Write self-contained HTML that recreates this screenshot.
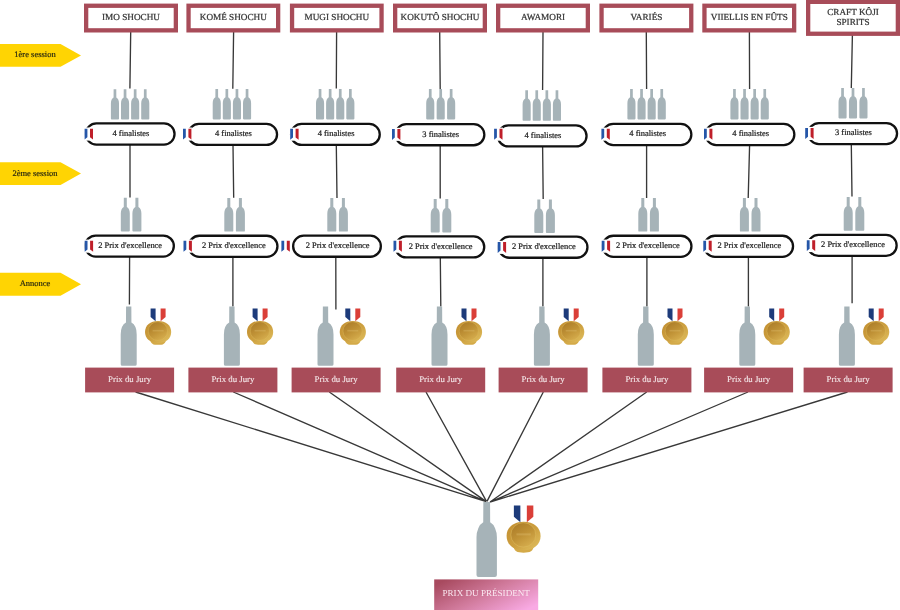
<!DOCTYPE html>
<html><head><meta charset="utf-8"><style>
html,body{margin:0;padding:0;background:#fff;}
svg{display:block;will-change:transform;}
text{font-family:"Liberation Serif",serif;text-anchor:middle;text-rendering:geometricPrecision;}
.ht{font-size:9.2px;fill:#333;stroke:#333;stroke-width:0.22px;}
.at{font-size:8.5px;fill:#2a2a10;stroke:#2a2a10;stroke-width:0.2px;}
.pt{font-size:8.45px;fill:#222;stroke:#222;stroke-width:0.22px;}
.bt{font-size:8.8px;fill:#f4e6e8;stroke:#f4e6e8;stroke-width:0.12px;}
.prt{font-size:9.1px;fill:#fbe9f2;}
</style></head><body>
<svg width="900" height="610" viewBox="0 0 900 610">
<defs>
<linearGradient id="gold" x1="0" y1="0" x2="1" y2="1"><stop offset="0" stop-color="#c28e30"/><stop offset="0.55" stop-color="#cda040"/><stop offset="1" stop-color="#e2c262"/></linearGradient>
<linearGradient id="gold2" x1="0.2" y1="0" x2="0.8" y2="1"><stop offset="0" stop-color="#ab7b28"/><stop offset="0.5" stop-color="#c09236"/><stop offset="1" stop-color="#d8b050"/></linearGradient>
<linearGradient id="pres" x1="0" y1="0.2" x2="1" y2="0.8"><stop offset="0" stop-color="#a84a5f"/><stop offset="0.5" stop-color="#d27c9e"/><stop offset="1" stop-color="#f9aae4"/></linearGradient>
</defs>
<path d="M0,44 L60.5,44 L81,55.40 L60.5,66.8 L0,66.8 Z" fill="#ffd403"/>
<text x="35" y="57.2" class="at">1ère session</text>
<path d="M0,162.2 L60.5,162.2 L81,173.60 L60.5,185 L0,185 Z" fill="#ffd403"/>
<text x="35" y="175.8" class="at">2ème session</text>
<path d="M0,272.8 L60.5,272.8 L81,284.30 L60.5,295.8 L0,295.8 Z" fill="#ffd403"/>
<text x="35" y="286.3" class="at">Annonce</text>
<path d="M130.7,32 L129.9,88.6 M130,145 L130,197.5 M129.6,257 L129.4,304.5 M135.6,392 L486.3,501.6 M233.6,32 L232.8,88.8 M233,145 L233.7,197.8 M232.9,257 L232.9,306.6 M233.3,392 L486.3,501.6 M336.6,32 L336.3,88.4 M336.3,145 L337,198 M335.8,257 L335.9,309.4 M329.3,392 L486.3,501.6 M439.7,32 L440.2,89 M440.2,145 L440.2,198.4 M440.3,257 L440.8,306.6 M426,392 L486.5,501.4 M543,32 L542.6,89.9 M542.6,146 L543.2,199 M542.9,258 L542.9,306.6 M543.3,392 L487,501.4 M646.3,32 L646.6,89 M646.6,145 L646.6,198 M646.9,257 L646.9,306.6 M646.7,392 L490,502 M749.4,32 L749.6,89 M749.6,145 L748.2,198 M748.4,257 L748.4,306.6 M748,392 L490,502 M852.4,35 L851.3,88 M851.3,144 L852,196.6 M852.1,256 L852.1,303.3 M847.5,392 L490,502" stroke="#383838" stroke-width="1.35" fill="none"/>
<rect x="86.15" y="5.75" width="89.70" height="24.60" fill="#fff" stroke="#a84c59" stroke-width="4.3"/>
<text x="131.00" y="19.8" class="ht">IMO SHOCHU</text>
<path transform="translate(110.90,89.20) scale(0.0810,0.0822)" d="M33.5,0 L66.5,0 L67,100 A50,78 0 0 1 100,174 L100,360 Q100,370 90,370 L10,370 Q0,370 0,360 L0,174 A50,78 0 0 1 33,100 Z" fill="#a6b3b8"/>
<path transform="translate(121.00,89.20) scale(0.0810,0.0822)" d="M33.5,0 L66.5,0 L67,100 A50,78 0 0 1 100,174 L100,360 Q100,370 90,370 L10,370 Q0,370 0,360 L0,174 A50,78 0 0 1 33,100 Z" fill="#a6b3b8"/>
<path transform="translate(131.10,89.20) scale(0.0810,0.0822)" d="M33.5,0 L66.5,0 L67,100 A50,78 0 0 1 100,174 L100,360 Q100,370 90,370 L10,370 Q0,370 0,360 L0,174 A50,78 0 0 1 33,100 Z" fill="#a6b3b8"/>
<path transform="translate(141.20,89.20) scale(0.0810,0.0822)" d="M33.5,0 L66.5,0 L67,100 A50,78 0 0 1 100,174 L100,360 Q100,370 90,370 L10,370 Q0,370 0,360 L0,174 A50,78 0 0 1 33,100 Z" fill="#a6b3b8"/>
<path transform="translate(120.80,197.80) scale(0.0900,0.0908)" d="M33.5,0 L66.5,0 L67,100 A50,78 0 0 1 100,174 L100,360 Q100,370 90,370 L10,370 Q0,370 0,360 L0,174 A50,78 0 0 1 33,100 Z" fill="#a6b3b8"/>
<path transform="translate(132.40,197.80) scale(0.0900,0.0908)" d="M33.5,0 L66.5,0 L67,100 A50,78 0 0 1 100,174 L100,360 Q100,370 90,370 L10,370 Q0,370 0,360 L0,174 A50,78 0 0 1 33,100 Z" fill="#a6b3b8"/>
<path transform="translate(120.70,306.60) scale(0.1600,0.1600)" d="M33.5,0 L66.5,0 L67,100 A50,78 0 0 1 100,174 L100,360 Q100,370 90,370 L10,370 Q0,370 0,360 L0,174 A50,78 0 0 1 33,100 Z" fill="#a6b3b8"/>
<path d="M150.10,338.40 L166.10,338.40 C165.70,344.10 163.10,344.80 158.10,344.80 C153.10,344.80 150.50,344.10 150.10,338.40 Z" fill="#d4aa48"/>
<path d="M145.00,331.90 C145.00,325.30 150.24,320.90 158.10,320.90 C165.96,320.90 171.20,325.30 171.20,331.90 C171.20,338.50 165.96,342.90 158.10,342.90 C150.24,342.90 145.00,338.50 145.00,331.90 Z" fill="url(#gold)"/>
<ellipse cx="157.90" cy="331.10" rx="9.60" ry="9.40" fill="url(#gold2)" stroke="#e0bf62" stroke-width="0.50" stroke-opacity="0.7"/>
<rect x="152.60" y="329.90" width="11.00" height="1.60" fill="#e6c77a" opacity="0.3"/>
<path d="M150.60,308.50 L155.60,308.50 L155.60,321.30 L150.60,317.10 Z" fill="#1d3b7a"/>
<path d="M160.60,308.50 L165.60,308.50 L165.60,317.10 L160.60,321.30 Z" fill="#da3f38"/>
<rect x="85.85" y="123.45" width="88.70" height="21.10" rx="10.55" fill="#fff" stroke="#111" stroke-width="2.3"/><text x="130.90" y="135.80" class="pt">4 finalistes</text>
<rect x="84.10" y="127.50" width="9.4" height="13.1" fill="#fff"/>
<path d="M84.60,128.70 L87.40,128.70 L87.40,137.30 L84.60,139.60 Z" fill="#2556a8"/>
<path d="M90.00,128.70 L93.00,128.70 L93.00,139.60 L90.00,137.30 Z" fill="#bf1f2a"/>
<rect x="85.15" y="235.55" width="88.70" height="21.10" rx="10.55" fill="#fff" stroke="#111" stroke-width="2.3"/><text x="130.20" y="247.90" class="pt">2 Prix d'excellence</text>
<rect x="84.20" y="239.60" width="9.4" height="13.1" fill="#fff"/>
<path d="M84.70,240.80 L87.50,240.80 L87.50,249.40 L84.70,251.70 Z" fill="#2556a8"/>
<path d="M90.10,240.80 L93.10,240.80 L93.10,251.70 L90.10,249.40 Z" fill="#bf1f2a"/>
<rect x="85.1" y="367.6" width="89" height="24.8" fill="#a84c59"/>
<text x="129.60" y="382" class="bt">Prix du Jury</text>
<rect x="188.55" y="5.75" width="89.60" height="24.60" fill="#fff" stroke="#a84c59" stroke-width="4.3"/>
<text x="233.35" y="19.8" class="ht">KOMÉ SHOCHU</text>
<path transform="translate(212.70,89.00) scale(0.0810,0.0822)" d="M33.5,0 L66.5,0 L67,100 A50,78 0 0 1 100,174 L100,360 Q100,370 90,370 L10,370 Q0,370 0,360 L0,174 A50,78 0 0 1 33,100 Z" fill="#a6b3b8"/>
<path transform="translate(222.80,89.00) scale(0.0810,0.0822)" d="M33.5,0 L66.5,0 L67,100 A50,78 0 0 1 100,174 L100,360 Q100,370 90,370 L10,370 Q0,370 0,360 L0,174 A50,78 0 0 1 33,100 Z" fill="#a6b3b8"/>
<path transform="translate(232.90,89.00) scale(0.0810,0.0822)" d="M33.5,0 L66.5,0 L67,100 A50,78 0 0 1 100,174 L100,360 Q100,370 90,370 L10,370 Q0,370 0,360 L0,174 A50,78 0 0 1 33,100 Z" fill="#a6b3b8"/>
<path transform="translate(243.00,89.00) scale(0.0810,0.0822)" d="M33.5,0 L66.5,0 L67,100 A50,78 0 0 1 100,174 L100,360 Q100,370 90,370 L10,370 Q0,370 0,360 L0,174 A50,78 0 0 1 33,100 Z" fill="#a6b3b8"/>
<path transform="translate(224.30,198.00) scale(0.0900,0.0908)" d="M33.5,0 L66.5,0 L67,100 A50,78 0 0 1 100,174 L100,360 Q100,370 90,370 L10,370 Q0,370 0,360 L0,174 A50,78 0 0 1 33,100 Z" fill="#a6b3b8"/>
<path transform="translate(235.90,198.00) scale(0.0900,0.0908)" d="M33.5,0 L66.5,0 L67,100 A50,78 0 0 1 100,174 L100,360 Q100,370 90,370 L10,370 Q0,370 0,360 L0,174 A50,78 0 0 1 33,100 Z" fill="#a6b3b8"/>
<path transform="translate(223.90,306.60) scale(0.1600,0.1600)" d="M33.5,0 L66.5,0 L67,100 A50,78 0 0 1 100,174 L100,360 Q100,370 90,370 L10,370 Q0,370 0,360 L0,174 A50,78 0 0 1 33,100 Z" fill="#a6b3b8"/>
<path d="M252.10,338.40 L268.10,338.40 C267.70,344.10 265.10,344.80 260.10,344.80 C255.10,344.80 252.50,344.10 252.10,338.40 Z" fill="#d4aa48"/>
<path d="M247.00,331.90 C247.00,325.30 252.24,320.90 260.10,320.90 C267.96,320.90 273.20,325.30 273.20,331.90 C273.20,338.50 267.96,342.90 260.10,342.90 C252.24,342.90 247.00,338.50 247.00,331.90 Z" fill="url(#gold)"/>
<ellipse cx="259.90" cy="331.10" rx="9.60" ry="9.40" fill="url(#gold2)" stroke="#e0bf62" stroke-width="0.50" stroke-opacity="0.7"/>
<rect x="254.60" y="329.90" width="11.00" height="1.60" fill="#e6c77a" opacity="0.3"/>
<path d="M252.60,308.50 L257.60,308.50 L257.60,321.30 L252.60,317.10 Z" fill="#1d3b7a"/>
<path d="M262.60,308.50 L267.60,308.50 L267.60,317.10 L262.60,321.30 Z" fill="#da3f38"/>
<rect x="188.35" y="123.85" width="88.70" height="21.10" rx="10.55" fill="#fff" stroke="#111" stroke-width="2.3"/><text x="233.40" y="136.20" class="pt">4 finalistes</text>
<rect x="182.50" y="127.50" width="9.4" height="13.1" fill="#fff"/>
<path d="M183.00,128.70 L185.80,128.70 L185.80,137.30 L183.00,139.60 Z" fill="#2556a8"/>
<path d="M188.40,128.70 L191.40,128.70 L191.40,139.60 L188.40,137.30 Z" fill="#bf1f2a"/>
<rect x="188.75" y="235.75" width="88.70" height="21.10" rx="10.55" fill="#fff" stroke="#111" stroke-width="2.3"/><text x="233.80" y="248.10" class="pt">2 Prix d'excellence</text>
<rect x="183.00" y="239.60" width="9.4" height="13.1" fill="#fff"/>
<path d="M183.50,240.80 L186.30,240.80 L186.30,249.40 L183.50,251.70 Z" fill="#2556a8"/>
<path d="M188.90,240.80 L191.90,240.80 L191.90,251.70 L188.90,249.40 Z" fill="#bf1f2a"/>
<rect x="188.4" y="367.6" width="89" height="24.8" fill="#a84c59"/>
<text x="232.90" y="382" class="bt">Prix du Jury</text>
<rect x="292.05" y="5.75" width="89.50" height="24.60" fill="#fff" stroke="#a84c59" stroke-width="4.3"/>
<text x="336.80" y="19.8" class="ht">MUGI SHOCHU</text>
<path transform="translate(316.00,89.00) scale(0.0810,0.0822)" d="M33.5,0 L66.5,0 L67,100 A50,78 0 0 1 100,174 L100,360 Q100,370 90,370 L10,370 Q0,370 0,360 L0,174 A50,78 0 0 1 33,100 Z" fill="#a6b3b8"/>
<path transform="translate(326.10,89.00) scale(0.0810,0.0822)" d="M33.5,0 L66.5,0 L67,100 A50,78 0 0 1 100,174 L100,360 Q100,370 90,370 L10,370 Q0,370 0,360 L0,174 A50,78 0 0 1 33,100 Z" fill="#a6b3b8"/>
<path transform="translate(336.20,89.00) scale(0.0810,0.0822)" d="M33.5,0 L66.5,0 L67,100 A50,78 0 0 1 100,174 L100,360 Q100,370 90,370 L10,370 Q0,370 0,360 L0,174 A50,78 0 0 1 33,100 Z" fill="#a6b3b8"/>
<path transform="translate(346.30,89.00) scale(0.0810,0.0822)" d="M33.5,0 L66.5,0 L67,100 A50,78 0 0 1 100,174 L100,360 Q100,370 90,370 L10,370 Q0,370 0,360 L0,174 A50,78 0 0 1 33,100 Z" fill="#a6b3b8"/>
<path transform="translate(327.30,198.00) scale(0.0900,0.0908)" d="M33.5,0 L66.5,0 L67,100 A50,78 0 0 1 100,174 L100,360 Q100,370 90,370 L10,370 Q0,370 0,360 L0,174 A50,78 0 0 1 33,100 Z" fill="#a6b3b8"/>
<path transform="translate(338.90,198.00) scale(0.0900,0.0908)" d="M33.5,0 L66.5,0 L67,100 A50,78 0 0 1 100,174 L100,360 Q100,370 90,370 L10,370 Q0,370 0,360 L0,174 A50,78 0 0 1 33,100 Z" fill="#a6b3b8"/>
<path transform="translate(317.50,306.60) scale(0.1600,0.1600)" d="M33.5,0 L66.5,0 L67,100 A50,78 0 0 1 100,174 L100,360 Q100,370 90,370 L10,370 Q0,370 0,360 L0,174 A50,78 0 0 1 33,100 Z" fill="#a6b3b8"/>
<path d="M344.80,338.40 L360.80,338.40 C360.40,344.10 357.80,344.80 352.80,344.80 C347.80,344.80 345.20,344.10 344.80,338.40 Z" fill="#d4aa48"/>
<path d="M339.70,331.90 C339.70,325.30 344.94,320.90 352.80,320.90 C360.66,320.90 365.90,325.30 365.90,331.90 C365.90,338.50 360.66,342.90 352.80,342.90 C344.94,342.90 339.70,338.50 339.70,331.90 Z" fill="url(#gold)"/>
<ellipse cx="352.60" cy="331.10" rx="9.60" ry="9.40" fill="url(#gold2)" stroke="#e0bf62" stroke-width="0.50" stroke-opacity="0.7"/>
<rect x="347.30" y="329.90" width="11.00" height="1.60" fill="#e6c77a" opacity="0.3"/>
<path d="M345.30,308.50 L350.30,308.50 L350.30,321.30 L345.30,317.10 Z" fill="#1d3b7a"/>
<path d="M355.30,308.50 L360.30,308.50 L360.30,317.10 L355.30,321.30 Z" fill="#da3f38"/>
<rect x="291.05" y="123.85" width="88.70" height="21.10" rx="10.55" fill="#fff" stroke="#111" stroke-width="2.3"/><text x="336.10" y="136.20" class="pt">4 finalistes</text>
<rect x="289.70" y="127.60" width="9.4" height="13.1" fill="#fff"/>
<path d="M290.20,128.80 L293.00,128.80 L293.00,137.40 L290.20,139.70 Z" fill="#2556a8"/>
<path d="M295.60,128.80 L298.60,128.80 L298.60,139.70 L295.60,137.40 Z" fill="#bf1f2a"/>
<rect x="293.15" y="235.65" width="87.70" height="21.10" rx="10.55" fill="#fff" stroke="#111" stroke-width="2.3"/><text x="337.70" y="248.00" class="pt">2 Prix d'excellence</text>
<path d="M281.40,240.80 L284.20,240.80 L284.20,249.40 L281.40,251.70 Z" fill="#2556a8"/>
<path d="M286.80,240.80 L289.80,240.80 L289.80,251.70 L286.80,249.40 Z" fill="#bf1f2a"/>
<rect x="291.6" y="367.6" width="89" height="24.8" fill="#a84c59"/>
<text x="336.10" y="382" class="bt">Prix du Jury</text>
<rect x="395.15" y="5.75" width="89.70" height="24.60" fill="#fff" stroke="#a84c59" stroke-width="4.3"/>
<text x="440.00" y="19.8" class="ht">KOKUTÔ SHOCHU</text>
<path transform="translate(426.20,89.00) scale(0.0810,0.0822)" d="M33.5,0 L66.5,0 L67,100 A50,78 0 0 1 100,174 L100,360 Q100,370 90,370 L10,370 Q0,370 0,360 L0,174 A50,78 0 0 1 33,100 Z" fill="#a6b3b8"/>
<path transform="translate(436.65,89.00) scale(0.0810,0.0822)" d="M33.5,0 L66.5,0 L67,100 A50,78 0 0 1 100,174 L100,360 Q100,370 90,370 L10,370 Q0,370 0,360 L0,174 A50,78 0 0 1 33,100 Z" fill="#a6b3b8"/>
<path transform="translate(447.10,89.00) scale(0.0810,0.0822)" d="M33.5,0 L66.5,0 L67,100 A50,78 0 0 1 100,174 L100,360 Q100,370 90,370 L10,370 Q0,370 0,360 L0,174 A50,78 0 0 1 33,100 Z" fill="#a6b3b8"/>
<path transform="translate(430.70,198.90) scale(0.0900,0.0908)" d="M33.5,0 L66.5,0 L67,100 A50,78 0 0 1 100,174 L100,360 Q100,370 90,370 L10,370 Q0,370 0,360 L0,174 A50,78 0 0 1 33,100 Z" fill="#a6b3b8"/>
<path transform="translate(442.30,198.90) scale(0.0900,0.0908)" d="M33.5,0 L66.5,0 L67,100 A50,78 0 0 1 100,174 L100,360 Q100,370 90,370 L10,370 Q0,370 0,360 L0,174 A50,78 0 0 1 33,100 Z" fill="#a6b3b8"/>
<path transform="translate(431.50,306.60) scale(0.1600,0.1600)" d="M33.5,0 L66.5,0 L67,100 A50,78 0 0 1 100,174 L100,360 Q100,370 90,370 L10,370 Q0,370 0,360 L0,174 A50,78 0 0 1 33,100 Z" fill="#a6b3b8"/>
<path d="M461.00,338.40 L477.00,338.40 C476.60,344.10 474.00,344.80 469.00,344.80 C464.00,344.80 461.40,344.10 461.00,338.40 Z" fill="#d4aa48"/>
<path d="M455.90,331.90 C455.90,325.30 461.14,320.90 469.00,320.90 C476.86,320.90 482.10,325.30 482.10,331.90 C482.10,338.50 476.86,342.90 469.00,342.90 C461.14,342.90 455.90,338.50 455.90,331.90 Z" fill="url(#gold)"/>
<ellipse cx="468.80" cy="331.10" rx="9.60" ry="9.40" fill="url(#gold2)" stroke="#e0bf62" stroke-width="0.50" stroke-opacity="0.7"/>
<rect x="463.50" y="329.90" width="11.00" height="1.60" fill="#e6c77a" opacity="0.3"/>
<path d="M461.50,308.50 L466.50,308.50 L466.50,321.30 L461.50,317.10 Z" fill="#1d3b7a"/>
<path d="M471.50,308.50 L476.50,308.50 L476.50,317.10 L471.50,321.30 Z" fill="#da3f38"/>
<rect x="395.65" y="124.15" width="88.70" height="21.10" rx="10.55" fill="#fff" stroke="#111" stroke-width="2.3"/><text x="440.70" y="136.50" class="pt">3 finalistes</text>
<rect x="391.50" y="127.80" width="9.4" height="13.1" fill="#fff"/>
<path d="M392.00,129.00 L394.80,129.00 L394.80,137.60 L392.00,139.90 Z" fill="#2556a8"/>
<path d="M397.40,129.00 L400.40,129.00 L400.40,139.90 L397.40,137.60 Z" fill="#bf1f2a"/>
<rect x="395.55" y="236.35" width="88.70" height="21.10" rx="10.55" fill="#fff" stroke="#111" stroke-width="2.3"/><text x="440.60" y="248.70" class="pt">2 Prix d'excellence</text>
<rect x="393.00" y="239.60" width="9.4" height="13.1" fill="#fff"/>
<path d="M393.50,240.80 L396.30,240.80 L396.30,249.40 L393.50,251.70 Z" fill="#2556a8"/>
<path d="M398.90,240.80 L401.90,240.80 L401.90,251.70 L398.90,249.40 Z" fill="#bf1f2a"/>
<rect x="396.2" y="367.6" width="89" height="24.8" fill="#a84c59"/>
<text x="440.70" y="382" class="bt">Prix du Jury</text>
<rect x="498.15" y="5.75" width="89.70" height="24.60" fill="#fff" stroke="#a84c59" stroke-width="4.3"/>
<text x="543.00" y="19.8" class="ht">AWAMORI</text>
<path transform="translate(522.60,90.30) scale(0.0810,0.0822)" d="M33.5,0 L66.5,0 L67,100 A50,78 0 0 1 100,174 L100,360 Q100,370 90,370 L10,370 Q0,370 0,360 L0,174 A50,78 0 0 1 33,100 Z" fill="#a6b3b8"/>
<path transform="translate(532.70,90.30) scale(0.0810,0.0822)" d="M33.5,0 L66.5,0 L67,100 A50,78 0 0 1 100,174 L100,360 Q100,370 90,370 L10,370 Q0,370 0,360 L0,174 A50,78 0 0 1 33,100 Z" fill="#a6b3b8"/>
<path transform="translate(542.80,90.30) scale(0.0810,0.0822)" d="M33.5,0 L66.5,0 L67,100 A50,78 0 0 1 100,174 L100,360 Q100,370 90,370 L10,370 Q0,370 0,360 L0,174 A50,78 0 0 1 33,100 Z" fill="#a6b3b8"/>
<path transform="translate(552.90,90.30) scale(0.0810,0.0822)" d="M33.5,0 L66.5,0 L67,100 A50,78 0 0 1 100,174 L100,360 Q100,370 90,370 L10,370 Q0,370 0,360 L0,174 A50,78 0 0 1 33,100 Z" fill="#a6b3b8"/>
<path transform="translate(534.30,199.40) scale(0.0900,0.0908)" d="M33.5,0 L66.5,0 L67,100 A50,78 0 0 1 100,174 L100,360 Q100,370 90,370 L10,370 Q0,370 0,360 L0,174 A50,78 0 0 1 33,100 Z" fill="#a6b3b8"/>
<path transform="translate(545.90,199.40) scale(0.0900,0.0908)" d="M33.5,0 L66.5,0 L67,100 A50,78 0 0 1 100,174 L100,360 Q100,370 90,370 L10,370 Q0,370 0,360 L0,174 A50,78 0 0 1 33,100 Z" fill="#a6b3b8"/>
<path transform="translate(533.90,306.60) scale(0.1600,0.1600)" d="M33.5,0 L66.5,0 L67,100 A50,78 0 0 1 100,174 L100,360 Q100,370 90,370 L10,370 Q0,370 0,360 L0,174 A50,78 0 0 1 33,100 Z" fill="#a6b3b8"/>
<path d="M563.20,338.40 L579.20,338.40 C578.80,344.10 576.20,344.80 571.20,344.80 C566.20,344.80 563.60,344.10 563.20,338.40 Z" fill="#d4aa48"/>
<path d="M558.10,331.90 C558.10,325.30 563.34,320.90 571.20,320.90 C579.06,320.90 584.30,325.30 584.30,331.90 C584.30,338.50 579.06,342.90 571.20,342.90 C563.34,342.90 558.10,338.50 558.10,331.90 Z" fill="url(#gold)"/>
<ellipse cx="571.00" cy="331.10" rx="9.60" ry="9.40" fill="url(#gold2)" stroke="#e0bf62" stroke-width="0.50" stroke-opacity="0.7"/>
<rect x="565.70" y="329.90" width="11.00" height="1.60" fill="#e6c77a" opacity="0.3"/>
<path d="M563.70,308.50 L568.70,308.50 L568.70,321.30 L563.70,317.10 Z" fill="#1d3b7a"/>
<path d="M573.70,308.50 L578.70,308.50 L578.70,317.10 L573.70,321.30 Z" fill="#da3f38"/>
<rect x="497.85" y="125.35" width="88.70" height="21.10" rx="10.55" fill="#fff" stroke="#111" stroke-width="2.3"/><text x="542.90" y="137.70" class="pt">4 finalistes</text>
<rect x="493.60" y="127.60" width="9.4" height="13.1" fill="#fff"/>
<path d="M494.10,128.80 L496.90,128.80 L496.90,137.40 L494.10,139.70 Z" fill="#2556a8"/>
<path d="M499.50,128.80 L502.50,128.80 L502.50,139.70 L499.50,137.40 Z" fill="#bf1f2a"/>
<rect x="498.75" y="236.65" width="88.70" height="21.10" rx="10.55" fill="#fff" stroke="#111" stroke-width="2.3"/><text x="543.80" y="249.00" class="pt">2 Prix d'excellence</text>
<rect x="497.20" y="240.80" width="9.4" height="13.1" fill="#fff"/>
<path d="M497.70,242.00 L500.50,242.00 L500.50,250.60 L497.70,252.90 Z" fill="#2556a8"/>
<path d="M503.10,242.00 L506.10,242.00 L506.10,252.90 L503.10,250.60 Z" fill="#bf1f2a"/>
<rect x="498.6" y="367.6" width="89" height="24.8" fill="#a84c59"/>
<text x="543.10" y="382" class="bt">Prix du Jury</text>
<rect x="601.55" y="5.75" width="89.70" height="24.60" fill="#fff" stroke="#a84c59" stroke-width="4.3"/>
<text x="646.40" y="19.8" class="ht">VARIÉS</text>
<path transform="translate(627.40,89.00) scale(0.0810,0.0822)" d="M33.5,0 L66.5,0 L67,100 A50,78 0 0 1 100,174 L100,360 Q100,370 90,370 L10,370 Q0,370 0,360 L0,174 A50,78 0 0 1 33,100 Z" fill="#a6b3b8"/>
<path transform="translate(637.50,89.00) scale(0.0810,0.0822)" d="M33.5,0 L66.5,0 L67,100 A50,78 0 0 1 100,174 L100,360 Q100,370 90,370 L10,370 Q0,370 0,360 L0,174 A50,78 0 0 1 33,100 Z" fill="#a6b3b8"/>
<path transform="translate(647.60,89.00) scale(0.0810,0.0822)" d="M33.5,0 L66.5,0 L67,100 A50,78 0 0 1 100,174 L100,360 Q100,370 90,370 L10,370 Q0,370 0,360 L0,174 A50,78 0 0 1 33,100 Z" fill="#a6b3b8"/>
<path transform="translate(657.70,89.00) scale(0.0810,0.0822)" d="M33.5,0 L66.5,0 L67,100 A50,78 0 0 1 100,174 L100,360 Q100,370 90,370 L10,370 Q0,370 0,360 L0,174 A50,78 0 0 1 33,100 Z" fill="#a6b3b8"/>
<path transform="translate(638.30,198.00) scale(0.0900,0.0908)" d="M33.5,0 L66.5,0 L67,100 A50,78 0 0 1 100,174 L100,360 Q100,370 90,370 L10,370 Q0,370 0,360 L0,174 A50,78 0 0 1 33,100 Z" fill="#a6b3b8"/>
<path transform="translate(649.90,198.00) scale(0.0900,0.0908)" d="M33.5,0 L66.5,0 L67,100 A50,78 0 0 1 100,174 L100,360 Q100,370 90,370 L10,370 Q0,370 0,360 L0,174 A50,78 0 0 1 33,100 Z" fill="#a6b3b8"/>
<path transform="translate(637.80,306.60) scale(0.1600,0.1600)" d="M33.5,0 L66.5,0 L67,100 A50,78 0 0 1 100,174 L100,360 Q100,370 90,370 L10,370 Q0,370 0,360 L0,174 A50,78 0 0 1 33,100 Z" fill="#a6b3b8"/>
<path d="M667.00,338.40 L683.00,338.40 C682.60,344.10 680.00,344.80 675.00,344.80 C670.00,344.80 667.40,344.10 667.00,338.40 Z" fill="#d4aa48"/>
<path d="M661.90,331.90 C661.90,325.30 667.14,320.90 675.00,320.90 C682.86,320.90 688.10,325.30 688.10,331.90 C688.10,338.50 682.86,342.90 675.00,342.90 C667.14,342.90 661.90,338.50 661.90,331.90 Z" fill="url(#gold)"/>
<ellipse cx="674.80" cy="331.10" rx="9.60" ry="9.40" fill="url(#gold2)" stroke="#e0bf62" stroke-width="0.50" stroke-opacity="0.7"/>
<rect x="669.50" y="329.90" width="11.00" height="1.60" fill="#e6c77a" opacity="0.3"/>
<path d="M667.50,308.50 L672.50,308.50 L672.50,321.30 L667.50,317.10 Z" fill="#1d3b7a"/>
<path d="M677.50,308.50 L682.50,308.50 L682.50,317.10 L677.50,321.30 Z" fill="#da3f38"/>
<rect x="602.65" y="123.95" width="88.70" height="21.10" rx="10.55" fill="#fff" stroke="#111" stroke-width="2.3"/><text x="647.70" y="136.30" class="pt">4 finalistes</text>
<rect x="600.90" y="127.60" width="9.4" height="13.1" fill="#fff"/>
<path d="M601.40,128.80 L604.20,128.80 L604.20,137.40 L601.40,139.70 Z" fill="#2556a8"/>
<path d="M606.80,128.80 L609.80,128.80 L609.80,139.70 L606.80,137.40 Z" fill="#bf1f2a"/>
<rect x="602.75" y="235.75" width="88.70" height="21.10" rx="10.55" fill="#fff" stroke="#111" stroke-width="2.3"/><text x="647.80" y="248.10" class="pt">2 Prix d'excellence</text>
<rect x="601.20" y="239.60" width="9.4" height="13.1" fill="#fff"/>
<path d="M601.70,240.80 L604.50,240.80 L604.50,249.40 L601.70,251.70 Z" fill="#2556a8"/>
<path d="M607.10,240.80 L610.10,240.80 L610.10,251.70 L607.10,249.40 Z" fill="#bf1f2a"/>
<rect x="602.4" y="367.6" width="89" height="24.8" fill="#a84c59"/>
<text x="646.90" y="382" class="bt">Prix du Jury</text>
<rect x="704.45" y="5.75" width="89.70" height="24.60" fill="#fff" stroke="#a84c59" stroke-width="4.3"/>
<text x="749.30" y="19.8" class="ht">VIIELLIS EN FÛTS</text>
<path transform="translate(730.40,89.00) scale(0.0810,0.0822)" d="M33.5,0 L66.5,0 L67,100 A50,78 0 0 1 100,174 L100,360 Q100,370 90,370 L10,370 Q0,370 0,360 L0,174 A50,78 0 0 1 33,100 Z" fill="#a6b3b8"/>
<path transform="translate(740.50,89.00) scale(0.0810,0.0822)" d="M33.5,0 L66.5,0 L67,100 A50,78 0 0 1 100,174 L100,360 Q100,370 90,370 L10,370 Q0,370 0,360 L0,174 A50,78 0 0 1 33,100 Z" fill="#a6b3b8"/>
<path transform="translate(750.60,89.00) scale(0.0810,0.0822)" d="M33.5,0 L66.5,0 L67,100 A50,78 0 0 1 100,174 L100,360 Q100,370 90,370 L10,370 Q0,370 0,360 L0,174 A50,78 0 0 1 33,100 Z" fill="#a6b3b8"/>
<path transform="translate(760.70,89.00) scale(0.0810,0.0822)" d="M33.5,0 L66.5,0 L67,100 A50,78 0 0 1 100,174 L100,360 Q100,370 90,370 L10,370 Q0,370 0,360 L0,174 A50,78 0 0 1 33,100 Z" fill="#a6b3b8"/>
<path transform="translate(739.90,198.00) scale(0.0900,0.0908)" d="M33.5,0 L66.5,0 L67,100 A50,78 0 0 1 100,174 L100,360 Q100,370 90,370 L10,370 Q0,370 0,360 L0,174 A50,78 0 0 1 33,100 Z" fill="#a6b3b8"/>
<path transform="translate(751.50,198.00) scale(0.0900,0.0908)" d="M33.5,0 L66.5,0 L67,100 A50,78 0 0 1 100,174 L100,360 Q100,370 90,370 L10,370 Q0,370 0,360 L0,174 A50,78 0 0 1 33,100 Z" fill="#a6b3b8"/>
<path transform="translate(739.30,306.60) scale(0.1600,0.1600)" d="M33.5,0 L66.5,0 L67,100 A50,78 0 0 1 100,174 L100,360 Q100,370 90,370 L10,370 Q0,370 0,360 L0,174 A50,78 0 0 1 33,100 Z" fill="#a6b3b8"/>
<path d="M768.70,338.40 L784.70,338.40 C784.30,344.10 781.70,344.80 776.70,344.80 C771.70,344.80 769.10,344.10 768.70,338.40 Z" fill="#d4aa48"/>
<path d="M763.60,331.90 C763.60,325.30 768.84,320.90 776.70,320.90 C784.56,320.90 789.80,325.30 789.80,331.90 C789.80,338.50 784.56,342.90 776.70,342.90 C768.84,342.90 763.60,338.50 763.60,331.90 Z" fill="url(#gold)"/>
<ellipse cx="776.50" cy="331.10" rx="9.60" ry="9.40" fill="url(#gold2)" stroke="#e0bf62" stroke-width="0.50" stroke-opacity="0.7"/>
<rect x="771.20" y="329.90" width="11.00" height="1.60" fill="#e6c77a" opacity="0.3"/>
<path d="M769.20,308.50 L774.20,308.50 L774.20,321.30 L769.20,317.10 Z" fill="#1d3b7a"/>
<path d="M779.20,308.50 L784.20,308.50 L784.20,317.10 L779.20,321.30 Z" fill="#da3f38"/>
<rect x="705.65" y="123.95" width="88.70" height="21.10" rx="10.55" fill="#fff" stroke="#111" stroke-width="2.3"/><text x="750.70" y="136.30" class="pt">4 finalistes</text>
<rect x="703.50" y="127.60" width="9.4" height="13.1" fill="#fff"/>
<path d="M704.00,128.80 L706.80,128.80 L706.80,137.40 L704.00,139.70 Z" fill="#2556a8"/>
<path d="M709.40,128.80 L712.40,128.80 L712.40,139.70 L709.40,137.40 Z" fill="#bf1f2a"/>
<rect x="704.35" y="235.75" width="88.70" height="21.10" rx="10.55" fill="#fff" stroke="#111" stroke-width="2.3"/><text x="749.40" y="248.10" class="pt">2 Prix d'excellence</text>
<rect x="702.80" y="239.60" width="9.4" height="13.1" fill="#fff"/>
<path d="M703.30,240.80 L706.10,240.80 L706.10,249.40 L703.30,251.70 Z" fill="#2556a8"/>
<path d="M708.70,240.80 L711.70,240.80 L711.70,251.70 L708.70,249.40 Z" fill="#bf1f2a"/>
<rect x="704.1" y="367.6" width="89" height="24.8" fill="#a84c59"/>
<text x="748.60" y="382" class="bt">Prix du Jury</text>
<rect x="808.15" y="1.85" width="89.70" height="31.90" fill="#fff" stroke="#a84c59" stroke-width="4.3"/>
<text x="853.00" y="15" class="ht">CRAFT KÔJI</text>
<text x="853.00" y="24.7" class="ht">SPIRITS</text>
<path transform="translate(838.50,88.00) scale(0.0810,0.0822)" d="M33.5,0 L66.5,0 L67,100 A50,78 0 0 1 100,174 L100,360 Q100,370 90,370 L10,370 Q0,370 0,360 L0,174 A50,78 0 0 1 33,100 Z" fill="#a6b3b8"/>
<path transform="translate(848.95,88.00) scale(0.0810,0.0822)" d="M33.5,0 L66.5,0 L67,100 A50,78 0 0 1 100,174 L100,360 Q100,370 90,370 L10,370 Q0,370 0,360 L0,174 A50,78 0 0 1 33,100 Z" fill="#a6b3b8"/>
<path transform="translate(859.40,88.00) scale(0.0810,0.0822)" d="M33.5,0 L66.5,0 L67,100 A50,78 0 0 1 100,174 L100,360 Q100,370 90,370 L10,370 Q0,370 0,360 L0,174 A50,78 0 0 1 33,100 Z" fill="#a6b3b8"/>
<path transform="translate(843.70,197.10) scale(0.0900,0.0908)" d="M33.5,0 L66.5,0 L67,100 A50,78 0 0 1 100,174 L100,360 Q100,370 90,370 L10,370 Q0,370 0,360 L0,174 A50,78 0 0 1 33,100 Z" fill="#a6b3b8"/>
<path transform="translate(855.30,197.10) scale(0.0900,0.0908)" d="M33.5,0 L66.5,0 L67,100 A50,78 0 0 1 100,174 L100,360 Q100,370 90,370 L10,370 Q0,370 0,360 L0,174 A50,78 0 0 1 33,100 Z" fill="#a6b3b8"/>
<path transform="translate(838.90,306.60) scale(0.1600,0.1600)" d="M33.5,0 L66.5,0 L67,100 A50,78 0 0 1 100,174 L100,360 Q100,370 90,370 L10,370 Q0,370 0,360 L0,174 A50,78 0 0 1 33,100 Z" fill="#a6b3b8"/>
<path d="M868.20,338.40 L884.20,338.40 C883.80,344.10 881.20,344.80 876.20,344.80 C871.20,344.80 868.60,344.10 868.20,338.40 Z" fill="#d4aa48"/>
<path d="M863.10,331.90 C863.10,325.30 868.34,320.90 876.20,320.90 C884.06,320.90 889.30,325.30 889.30,331.90 C889.30,338.50 884.06,342.90 876.20,342.90 C868.34,342.90 863.10,338.50 863.10,331.90 Z" fill="url(#gold)"/>
<ellipse cx="876.00" cy="331.10" rx="9.60" ry="9.40" fill="url(#gold2)" stroke="#e0bf62" stroke-width="0.50" stroke-opacity="0.7"/>
<rect x="870.70" y="329.90" width="11.00" height="1.60" fill="#e6c77a" opacity="0.3"/>
<path d="M868.70,308.50 L873.70,308.50 L873.70,321.30 L868.70,317.10 Z" fill="#1d3b7a"/>
<path d="M878.70,308.50 L883.70,308.50 L883.70,317.10 L878.70,321.30 Z" fill="#da3f38"/>
<rect x="808.35" y="123.05" width="88.70" height="21.10" rx="10.55" fill="#fff" stroke="#111" stroke-width="2.3"/><text x="853.40" y="135.40" class="pt">3 finalistes</text>
<rect x="804.70" y="126.90" width="9.4" height="13.1" fill="#fff"/>
<path d="M805.20,128.10 L808.00,128.10 L808.00,136.70 L805.20,139.00 Z" fill="#2556a8"/>
<path d="M810.60,128.10 L813.60,128.10 L813.60,139.00 L810.60,136.70 Z" fill="#bf1f2a"/>
<rect x="807.95" y="234.85" width="88.70" height="21.10" rx="10.55" fill="#fff" stroke="#111" stroke-width="2.3"/><text x="853.00" y="247.20" class="pt">2 Prix d'excellence</text>
<rect x="806.30" y="239.00" width="9.4" height="13.1" fill="#fff"/>
<path d="M806.80,240.20 L809.60,240.20 L809.60,248.80 L806.80,251.10 Z" fill="#2556a8"/>
<path d="M812.20,240.20 L815.20,240.20 L815.20,251.10 L812.20,248.80 Z" fill="#bf1f2a"/>
<rect x="803.6" y="367.6" width="89" height="24.8" fill="#a84c59"/>
<text x="848.10" y="382" class="bt">Prix du Jury</text>
<path transform="translate(476.50,502.10) scale(0.2040,0.2024)" d="M33.5,0 L66.5,0 L67,100 A50,78 0 0 1 100,174 L100,360 Q100,370 90,370 L10,370 Q0,370 0,360 L0,174 A50,78 0 0 1 33,100 Z" fill="#a6b3b8"/>
<path d="M513.22,544.36 L533.98,544.36 C533.46,551.76 530.09,552.67 523.60,552.67 C517.11,552.67 513.74,551.76 513.22,544.36 Z" fill="#d4aa48"/>
<path d="M506.60,535.93 C506.60,527.36 513.40,521.65 523.60,521.65 C533.80,521.65 540.60,527.36 540.60,535.93 C540.60,544.49 533.80,550.20 523.60,550.20 C513.40,550.20 506.60,544.49 506.60,535.93 Z" fill="url(#gold)"/>
<ellipse cx="523.34" cy="534.89" rx="12.46" ry="12.20" fill="url(#gold2)" stroke="#e0bf62" stroke-width="0.65" stroke-opacity="0.7"/>
<rect x="516.46" y="533.33" width="14.27" height="2.08" fill="#e6c77a" opacity="0.3"/>
<path d="M513.87,505.56 L520.36,505.56 L520.36,522.17 L513.87,516.72 Z" fill="#1d3b7a"/>
<path d="M526.84,505.56 L533.33,505.56 L533.33,516.72 L526.84,522.17 Z" fill="#da3f38"/>
<rect x="434.2" y="579.4" width="104" height="31" fill="url(#pres)"/>
<text x="486.2" y="596.4" class="prt">PRIX DU PRÉSIDENT</text>
</svg>
</body></html>
